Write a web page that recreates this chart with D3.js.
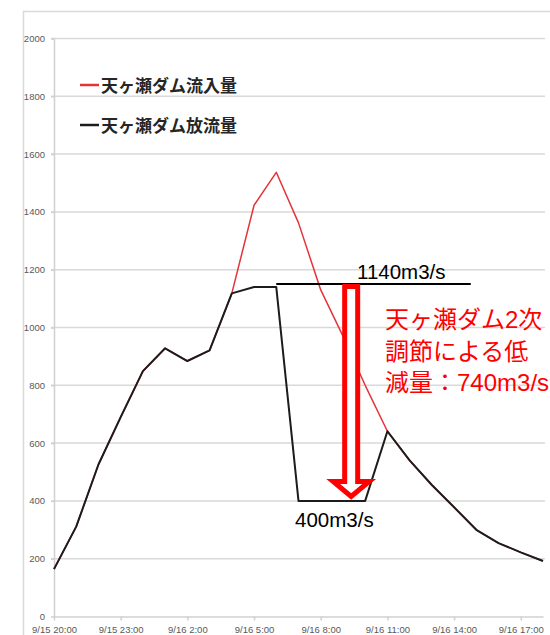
<!DOCTYPE html>
<html>
<head>
<meta charset="utf-8">
<script src="https://cdn.jsdelivr.net/npm/d3@7/dist/d3.min.js"></script>
<style>
  body { margin: 0; background: #fff; }
  svg { display: block; }
</style>
</head>
<body>
<svg id="chart" width="550" height="635"></svg>
<script>
// Hourly readings, 9/15 20:00 – 9/16 18:00
const hours = [
  "9/15 20:00", "9/15 21:00", "9/15 22:00", "9/15 23:00", "9/16 0:00", "9/16 1:00",
  "9/16 2:00", "9/16 3:00", "9/16 4:00", "9/16 5:00", "9/16 6:00", "9/16 7:00",
  "9/16 8:00", "9/16 9:00", "9/16 10:00", "9/16 11:00", "9/16 12:00", "9/16 13:00",
  "9/16 14:00", "9/16 15:00", "9/16 16:00", "9/16 17:00", "9/16 18:00"
];
// 天ヶ瀬ダム流入量 (m3/s)
const inflow = [164, 311, 526, 690, 849, 928, 884, 921, 1118, 1423, 1537, 1362,
                1130, 970, 800, 641, 540, 455, 378, 300, 254, 222, 192];
// 天ヶ瀬ダム放流量 (m3/s)
const outflow = [164, 311, 526, 690, 849, 928, 884, 921, 1118, 1140, 1140, 400,
                 400, 400, 400, 641, 540, 455, 378, 300, 254, 222, 192];
const seriesNames = ["天ヶ瀬ダム流入量", "天ヶ瀬ダム放流量"];
const seriesColors = ["#e3343a", "#1c1c1c"];
const yTicks = [0, 200, 400, 600, 800, 1000, 1200, 1400, 1600, 1800, 2000];
const xTickLabels = hours.filter((d, i) => i % 3 === 0);

// Second-stage regulation: discharge held at 1140, cut down to 400
const holdLevel = 1140;
const cutLevel = 400;
const reduction = holdLevel - cutLevel;

const svg = d3.select("#chart");

// outer chart frame
svg.append("rect")
  .attr("x", 23.5).attr("y", 11.5)
  .attr("width", 700).attr("height", 700)
  .attr("fill", "#fff").attr("stroke", "#d9d9d9").attr("stroke-width", 1.5);

const x = d3.scalePoint().domain(hours).range([54, 543]);
const y = d3.scaleLinear().domain([0, 2000]).range([616.5, 38.5]);
// position between hourly points (fractional hour index)
const xAt = i => x(hours[0]) + i * x.step();

// horizontal gridlines
svg.append("g")
  .selectAll("line")
  .data(yTicks.filter(d => d > 0))
  .join("line")
  .attr("x1", 51).attr("x2", 545)
  .attr("y1", d => y(d)).attr("y2", d => y(d))
  .attr("stroke", "#d9d9d9").attr("stroke-width", 1.5);

// y axis
const yAxis = svg.append("g")
  .attr("transform", "translate(54,0)")
  .call(d3.axisLeft(y).tickValues(yTicks).tickFormat(d3.format("d"))
    .tickSize(3).tickSizeOuter(0).tickPadding(6));
yAxis.select(".domain").attr("stroke", "#d0d0d0").attr("stroke-width", 1.5);
yAxis.selectAll(".tick line").attr("stroke", "#d0d0d0").attr("stroke-width", 1.5);
yAxis.selectAll(".tick text")
  .attr("fill", "#595959")
  .style("font-family", "'Liberation Sans', Arial, sans-serif")
  .style("font-size", "9.5px");

// x axis
const xAxis = svg.append("g")
  .attr("transform", `translate(0,${y(0)})`)
  .call(d3.axisBottom(x).tickValues(xTickLabels).tickSize(4).tickSizeOuter(0).tickPadding(6));
xAxis.select(".domain").attr("stroke", "#d0d0d0").attr("stroke-width", 1.5);
xAxis.selectAll(".tick line").attr("stroke", "#d0d0d0").attr("stroke-width", 1.5);
xAxis.selectAll(".tick text")
  .attr("fill", "#595959")
  .style("font-family", "'Liberation Sans', Arial, sans-serif")
  .style("font-size", "9.5px");

// series lines: inflow underneath, discharge on top
const line = d3.line().x((d, i) => x(hours[i])).y(d => y(d));
svg.append("path")
  .datum(inflow)
  .attr("d", line)
  .attr("fill", "none")
  .attr("stroke", seriesColors[0])
  .attr("stroke-width", 1.5)
  .attr("stroke-linejoin", "round");
svg.append("path")
  .datum(outflow)
  .attr("d", line)
  .attr("fill", "none")
  .attr("stroke", seriesColors[1])
  .attr("stroke-width", 2)
  .attr("stroke-linejoin", "round");

// legend
const legend = svg.append("g");
seriesNames.forEach((name, i) => {
  const ly = 85 + i * 40;
  legend.append("line")
    .attr("x1", 80).attr("x2", 99)
    .attr("y1", ly).attr("y2", ly)
    .attr("stroke", seriesColors[i]).attr("stroke-width", 2.5);
  legend.append("text")
    .attr("x", 101).attr("y", ly + 7)
    .attr("fill", "#262626")
    .style("font-family", "'Noto Sans CJK JP', sans-serif")
    .style("font-weight", "bold")
    .style("font-size", "17px")
    .text(name);
});

// annotation: level line at the held discharge
const ann = svg.append("g");
ann.append("line")
  .attr("x1", x(hours[10])).attr("x2", xAt(18.75))
  .attr("y1", y(holdLevel) - 3).attr("y2", y(holdLevel) - 3)
  .attr("stroke", "#000").attr("stroke-width", 2);
ann.append("text")
  .attr("x", 357).attr("y", y(holdLevel) - 8)
  .attr("fill", "#000")
  .style("font-family", "'Liberation Sans', Arial, sans-serif")
  .style("font-size", "20.5px")
  .text(`${holdLevel}m3/s`);
ann.append("text")
  .attr("x", 295).attr("y", y(cutLevel) + 26)
  .attr("fill", "#000")
  .style("font-family", "'Liberation Sans', Arial, sans-serif")
  .style("font-size", "20.5px")
  .text(`${cutLevel}m3/s`);

// hollow downward arrow from the held level to the cut level
const arrowX = xAt(13.37);
const arrowTop = y(holdLevel) - 3 + 2.5;
const arrowTip = y(cutLevel) - 4.5;
const headBase = arrowTip - 15;
const shaftHalf = 6.5, headHalf = 18;
const arrow = d3.path();
arrow.moveTo(arrowX - shaftHalf, arrowTop);
arrow.lineTo(arrowX + shaftHalf, arrowTop);
arrow.lineTo(arrowX + shaftHalf, headBase);
arrow.lineTo(arrowX + headHalf, headBase);
arrow.lineTo(arrowX, arrowTip);
arrow.lineTo(arrowX - headHalf, headBase);
arrow.lineTo(arrowX - shaftHalf, headBase);
arrow.closePath();
ann.append("path")
  .attr("d", arrow.toString())
  .attr("fill", "#fff")
  .attr("stroke", "#ff0000")
  .attr("stroke-width", 5)
  .attr("stroke-linejoin", "miter");

// red explanatory note
const note = ["天ヶ瀬ダム2次", "調節による低", `減量：${reduction}m3/s`];
ann.append("g")
  .selectAll("text")
  .data(note)
  .join("text")
  .attr("x", 385)
  .attr("y", (d, i) => 328 + i * 31.5)
  .attr("fill", "#ff0000")
  .style("font-family", "'Liberation Sans', 'Noto Sans CJK JP', sans-serif")
  .style("font-size", "24px")
  .text(d => d);
</script>
</body>
</html>
